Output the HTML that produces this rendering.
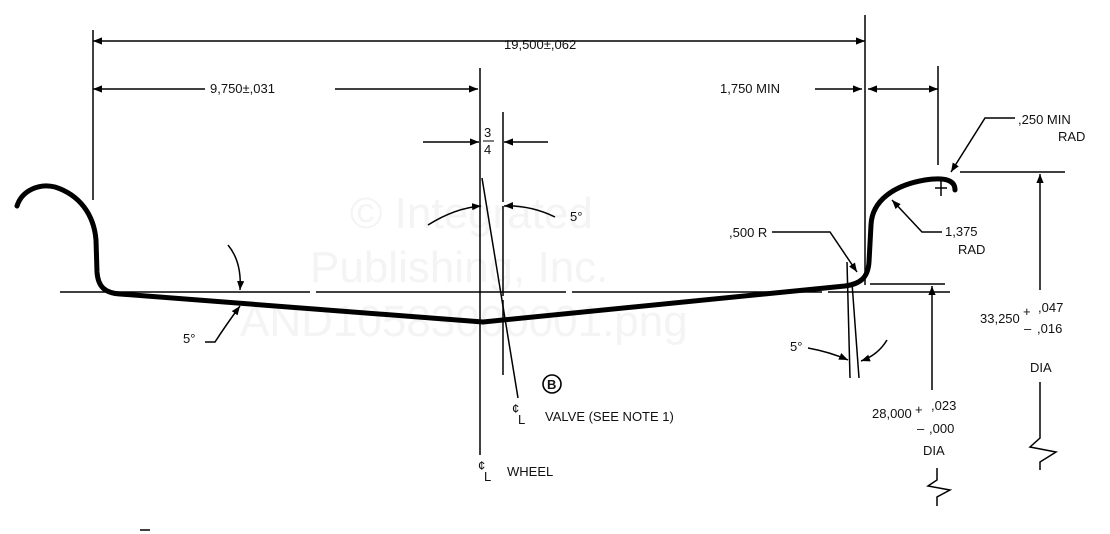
<!DOCTYPE html>
<html><head><meta charset="utf-8"><style>
html,body{margin:0;padding:0;background:#fff;width:1110px;height:534px;overflow:hidden}
text{font-family:"Liberation Sans",sans-serif;font-size:13px;fill:#111}
</style></head><body>
<svg width="1110" height="534" viewBox="0 0 1110 534" xmlns="http://www.w3.org/2000/svg">
<defs>
<marker id="a" viewBox="0 0 10 10" refX="10" refY="5" markerWidth="9" markerHeight="9" orient="auto-start-reverse" markerUnits="userSpaceOnUse"><path d="M0,1 L10,5 L0,9 Z" fill="#000"/></marker>
</defs>
<g>
<text x="350" y="228" style="font-size:44px;fill:#f4f4f4">© Integrated</text>
<text x="310" y="282" style="font-size:44px;fill:#f4f4f4">Publishing, Inc.</text>
<text x="240" y="336" style="font-size:44px;fill:#f4f4f4">AND10583000001.png</text>
</g>
<g stroke="#000" stroke-width="1.5" fill="none">
<line x1="93" y1="30" x2="93" y2="200"/>
<line x1="865" y1="15" x2="865" y2="285"/>
<line x1="938" y1="66" x2="938" y2="165"/>
<line x1="480" y1="68" x2="480" y2="455"/>
<line x1="503" y1="112" x2="503" y2="375" stroke-dasharray="90,4"/>
<line x1="482" y1="178" x2="518" y2="398"/>
<line x1="93" y1="41" x2="865" y2="41" marker-start="url(#a)" marker-end="url(#a)"/>
<line x1="93" y1="89" x2="205" y2="89" marker-start="url(#a)"/>
<line x1="335" y1="89" x2="478" y2="89" marker-end="url(#a)"/>
<line x1="815" y1="89" x2="862" y2="89" marker-end="url(#a)"/>
<line x1="868" y1="89" x2="938" y2="89" marker-start="url(#a)" marker-end="url(#a)"/>
<line x1="423" y1="142" x2="479" y2="142" marker-end="url(#a)"/>
<line x1="548" y1="142" x2="504" y2="142" marker-end="url(#a)"/>
<line x1="60" y1="292" x2="950" y2="292" stroke-dasharray="250,6"/>
<path d="M428,225 Q455,208 481,206" marker-end="url(#a)"/>
<path d="M555,217 Q530,205 504,206" marker-end="url(#a)"/>
<path d="M228,245 Q242,262 240,290" marker-end="url(#a)"/>
<path d="M205,342 L215,342 Q226,325 240,306" marker-end="url(#a)"/>
<path d="M808,348 Q830,352 848,360" marker-end="url(#a)"/>
<path d="M887,340 Q878,355 861,361" marker-end="url(#a)"/>
<line x1="847" y1="262" x2="850" y2="378"/>
<line x1="852" y1="283" x2="859" y2="378"/>
<path d="M772,232 L830,232 L857,272" marker-end="url(#a)"/>
<path d="M942,232 L922,232 L892,200" marker-end="url(#a)"/>
<path d="M1015,118 L985,118 L951,172" marker-end="url(#a)"/>
<line x1="960" y1="172" x2="1065" y2="172"/>
<line x1="870" y1="284" x2="945" y2="284"/>
<line x1="1040" y1="290" x2="1040" y2="174" marker-end="url(#a)"/>
<path d="M1040,382 L1040,438 L1030,447 L1056,452 L1040,462 L1040,470"/>
<line x1="932" y1="390" x2="932" y2="286" marker-end="url(#a)"/>
<path d="M937,468 L937,480 L928,486 L950,490 L937,497 L937,506"/>
<line x1="935" y1="188" x2="947" y2="188"/><line x1="941" y1="180" x2="941" y2="196"/>
<circle cx="552" cy="384" r="9" stroke-width="1.6"/>
<line x1="140" y1="530" x2="150" y2="530"/>
</g>
<path d="M17,206 C22,190 40,183 55,187 C80,195 94,215 96,240 L97,272 C98,287 105,293 120,294 L483,322 L845,286 C860,284 868,278 869,262 L871,225 C872,200 895,185 925,180 C945,177 955,180 955,190" fill="none" stroke="#000" stroke-width="5" stroke-linecap="round" stroke-linejoin="round"/>
<text x="504" y="49">19,500±,062</text>
<text x="210" y="93">9,750±,031</text>
<text x="720" y="93">1,750 MIN</text>
<text x="484" y="137" font-size="12">3</text><line x1="483" y1="141" x2="494" y2="141" stroke="#000"/><text x="484" y="154" font-size="12">4</text>
<text x="570" y="221">5°</text>
<text x="183" y="343">5°</text>
<text x="790" y="351">5°</text>
<text x="729" y="237">,500 R</text>
<text x="945" y="236">1,375</text><text x="958" y="254">RAD</text>
<text x="1018" y="124">,250 MIN</text><text x="1058" y="141">RAD</text>
<text x="980" y="323">33,250</text><text x="1023" y="316" font-size="18">+</text><text x="1038" y="312">,047</text>
<text x="1024" y="333" font-size="16">–</text><text x="1037" y="333">,016</text>
<text x="1030" y="372">DIA</text>
<text x="872" y="418">28,000</text><text x="915" y="414" font-size="18">+</text><text x="931" y="410">,023</text>
<text x="917" y="433" font-size="16">–</text><text x="929" y="433">,000</text>
<text x="923" y="455">DIA</text>
<text x="547" y="389" font-size="11" font-weight="bold">B</text>
<text x="512" y="413" font-size="15">¢</text><text x="518" y="424" font-size="11">L</text>
<text x="545" y="421">VALVE (SEE NOTE 1)</text>
<text x="478" y="470" font-size="15">¢</text><text x="484" y="481" font-size="11">L</text>
<text x="507" y="476">WHEEL</text>
</svg>
</body></html>
